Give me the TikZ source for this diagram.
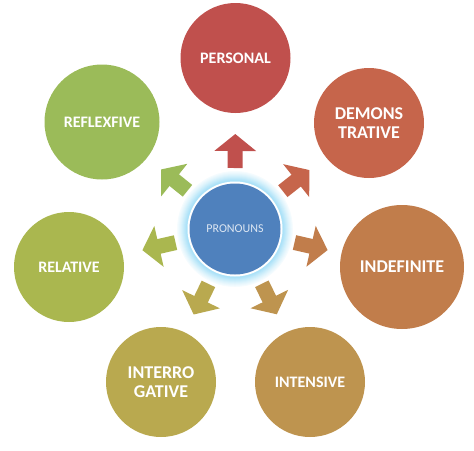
\documentclass[tikz,border=0pt]{standalone}
\usepackage{fontspec}
\setmainfont{Carlito}
\usetikzlibrary{arrows.meta,calc}
\definecolor{cPer}{HTML}{C0504D}
\definecolor{cDem}{HTML}{C6654B}
\definecolor{cInd}{HTML}{C17D4B}
\definecolor{cInt}{HTML}{BE944F}
\definecolor{cIrg}{HTML}{B9A94F}
\definecolor{cRel}{HTML}{AAB74F}
\definecolor{cRef}{HTML}{9BBB59}
\definecolor{cCen}{HTML}{4F81BD}
\definecolor{cCenTxt}{HTML}{DCE6F2}
\definecolor{glowC}{HTML}{8FD8F6}
\begin{document}
\begin{tikzpicture}[x=1pt,y=-1pt,
  cat/.style={circle, minimum size=#1, inner sep=0pt, text=white, align=center},
  cat/.default=110pt,
  blk/.style={line width=15pt, -{Triangle[length=17pt,width=41pt]}},
  fs/.style={font=\bfseries\fontsize{#1}{19}\selectfont}]
\useasboundingbox (0,0) rectangle (474,450);
% centre glow
\foreach \r/\p in {58/8,57/14,56/20,55/27,54/34,53/42,52/50,51/58,50/66,49/74}
  \fill[glowC!\p!white] (235,229) circle (\r pt);
\fill[white] (235,229) circle (47.5pt);
\node[circle, minimum size=91pt, inner sep=0pt, fill=cCen, text=cCenTxt,
  font=\fontsize{12}{14}\selectfont] (c) at (235,229) {PRONOUNS};
% categories
\node[cat, fill=cPer, fs=16] (per) at (235.5,58) {PERSONAL};
\node[cat, fill=cDem, fs=18] (dem) at (369,123) {DEMONS\\TRATIVE};
\node[cat=124pt, fill=cInd, fs=18] (ind) at (402,267) {INDEFINITE};
\node[cat, fill=cInt, fs=16] (int) at (310,382) {INTENSIVE};
\node[cat, fill=cIrg, fs=18] (irg) at (161,382) {INTERRO\\GATIVE};
\node[cat, fill=cRel, fs=16] (rel) at (69,267) {RELATIVE};
\node[cat=115pt, fill=cRef, fs=16] (ref) at (102,122) {REFLEXFIVE};
% block arrows
\foreach \t/\col in {per/cPer, dem/cDem, ind/cInd, int/cInt, irg/cIrg, rel/cRel, ref/cRef}
  \draw[blk, \col] ($(c.center)!61pt!(\t.center)$) -- ($(c.center)!95pt!(\t.center)$);
\end{tikzpicture}
\end{document}
